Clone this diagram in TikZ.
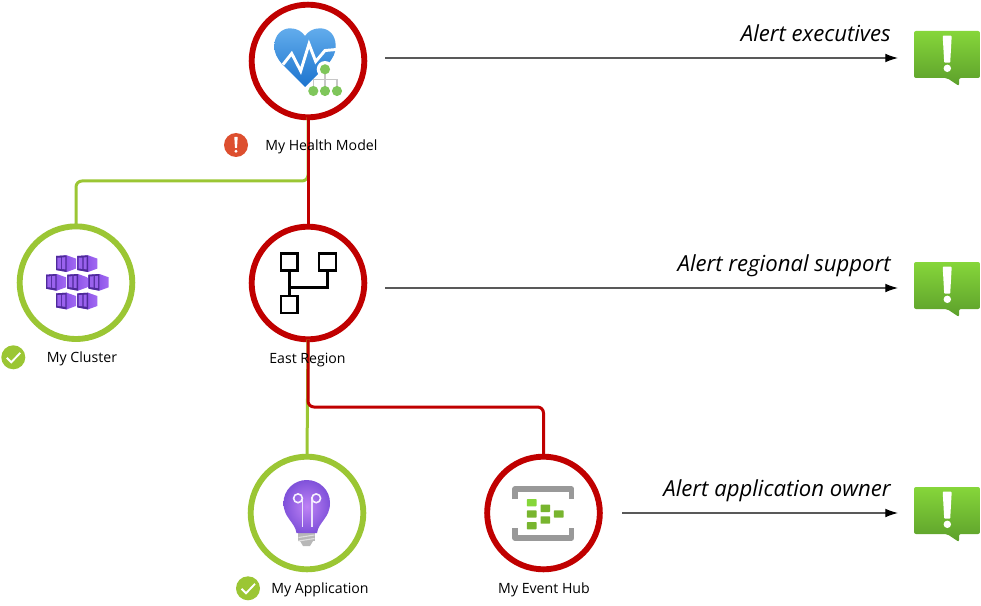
\documentclass[tikz,border=0pt]{standalone}
\usepackage{fontspec}
\setmainfont{Open Sans}
\usetikzlibrary{arrows.meta,calc}
\definecolor{redline}{HTML}{C00000}
\definecolor{greenline}{HTML}{9BC634}
\tikzset{
  statenode/.style={circle,draw=#1,fill=white,line width=4.4pt,minimum size=84.5pt,inner sep=0pt,outer sep=0pt},
  redlink/.style={draw=redline,line width=2.25pt,rounded corners=4.5pt},
  greenlink/.style={draw=greenline,line width=2.25pt,rounded corners=4.5pt},
  alertarrow/.style={draw=black!65,line width=0.85pt,-{Latex[length=9.5pt,width=6.5pt,black]}},
  namelabel/.style={inner sep=0pt,anchor=base,font=\fontsize{10.6}{12}\selectfont,text=black},
  alertlabel/.style={inner sep=0pt,anchor=base east,font=\fontsize{16.6}{19}\selectfont\itshape,text=black},
  pics/alertbubble/.style={code={
    \path[top color=HdrG,bottom color=LowG,rounded corners=1.5pt]
      (0,0) -- (66,0) -- (66,47) -- (45,47) -- (45,55) -- (33,47) -- (0,47) -- cycle;
    \fill[white,rounded corners=0.6pt] (28.7,4.7) -- (37.7,4.7) -- (36.2,31.7) -- (30.2,31.7) -- cycle;
    \fill[white] (33.3,37.3) circle[radius=2.8pt];
  }},
  pics/kube/.style={code={
    \path[left color=CubeM,right color=CubeR]
      (-10,-7.3) -- (0.7,-8) -- (10,-4.7) -- (10,5.3) -- (0.7,8.7) -- (-10,6.7) -- cycle;
    \fill[CubeD] (-10,-7.3) -- (0.7,-8) -- (0.7,8.7) -- (-10,6.7) -- cycle;
    \fill[CubeL] (-8.6,-5.6) -- (-5,-5.8) -- (-5,5.6) -- (-8.6,5.2) -- cycle;
    \fill[CubeL] (-3.8,-5.9) -- (-0.6,-6.1) -- (-0.6,6.1) -- (-3.8,5.7) -- cycle;
  }}
}
\definecolor{HdrG}{HTML}{86D63A}
\definecolor{LowG}{HTML}{5C9F2B}
\definecolor{CubeR}{HTML}{A26AF2}
\definecolor{CubeM}{HTML}{7B3FE0}
\definecolor{CubeD}{HTML}{4E2A9A}
\definecolor{CubeL}{HTML}{9A62EE}
\definecolor{NodeG}{HTML}{7FC65B}
\definecolor{HubG}{HTML}{78B52F}
\begin{document}
\begin{tikzpicture}[x=0.75pt,y=-0.75pt]
\useasboundingbox (0,0) rectangle (981,606);
% state circles
\node[statenode=redline] (health) at (308,61) {};
\node[statenode=greenline] (cluster) at (76,282.7) {};
\node[statenode=redline] (east) at (308,283) {};
\node[statenode=greenline] (app) at (307,513) {};
\node[statenode=redline] (hub) at (543.5,513) {};
% connectors
\coordinate (bendA) at (76,181);
\coordinate (bendB) at (543.5,407);
\path[greenlink] (health.south) |- (bendA) -- (cluster.north);
\path[redlink] (health.south) -- (east.north);
\path[greenlink] (east.south) -- (app.north);
\path[redlink] (east.south) |- (bendB) -- (hub.north);
% alert icons
\pic at (914,31) {alertbubble};
\pic at (914,262) {alertbubble};
\pic at (914,487) {alertbubble};
\coordinate (a1) at (385,58);\coordinate (b1) at (898,58);
\coordinate (a2) at (385,288);\coordinate (b2) at (898,288);
\coordinate (a3) at (622,513);\coordinate (b3) at (898,513);
\draw[alertarrow] (a1) -- (b1);
\draw[alertarrow] (a2) -- (b2);
\draw[alertarrow] (a3) -- (b3);
% heart icon
\path[top color={rgb,255:red,98;green,172;blue,236},bottom color={rgb,255:red,28;green,116;blue,206}]
  (305,87) -- (282,64)
  .. controls (277,58) and (274.3,53) .. (274.3,46)
  .. controls (274.3,35) and (282,28.3) .. (290,28.3)
  .. controls (297,28.3) and (302,31.5) .. (305,36)
  .. controls (308,31.5) and (313,28.3) .. (320,28.3)
  .. controls (329,28.3) and (335.7,35) .. (335.7,46)
  .. controls (335.7,53) and (333,58) .. (328,64) -- cycle;
\draw[white,line width=2.2pt,line join=miter] (283,64.5) -- (291.7,53.5) -- (300.7,71) -- (309,44) -- (315.7,61.5) -- (325,50.5) -- (336.5,49.5);
\fill[white] (325,69.3) circle[radius=6.2pt];
\fill[white] (319,76) rectangle (340,98);
\draw[black!22,line width=1pt] (325,70) -- (325,91) (313.3,79.5) -- (337,79.5) (313.3,79.5) -- (313.3,91) (337,79.5) -- (337,91);
\foreach \cx/\cy in {325/69.3,313.3/91,325/91,337/91}
  \fill[NodeG] (\cx,\cy) circle[radius=3.8pt];
% cluster icon
\foreach \cx/\cy in {66/263.3,87.3/263.3,56/282,77.3/282,98.7/282,66/300.7,87.3/300.7}
  \pic at (\cx,\cy) {kube};
% east region icon
\draw[black,line width=2pt] (281,253.5) rectangle (297.5,270.5);
\draw[black,line width=2pt] (319,253.5) rectangle (336,270.5);
\draw[black,line width=2pt] (281,296) rectangle (297.5,313);
\draw[black,line width=2pt] (289.3,270.5) -- (289.3,296) (289.3,287.7) -- (327.5,287.7) -- (327.5,270.5);
% bulb icon
\path[fill=black!28] (298,532) rectangle (315,541);
\path[fill=black!28] (300,541) -- (313,541) -- (310,546) -- (303,546) -- cycle;
\draw[black!12,line width=0.8pt] (298.5,537.5) -- (314.5,535) (298.5,541) -- (314.5,538.5);
\path[inner color={rgb,255:red,190;green,130;blue,245},outer color={rgb,255:red,128;green,82;blue,218}]
  (296.5,533) .. controls (295,522) and (283.5,518) .. (283.5,503)
  .. controls (283.5,490) and (294,480) .. (306.7,480)
  .. controls (319.5,480) and (330,490) .. (330,503)
  .. controls (330,518) and (318.5,522) .. (317,533) -- cycle;
\draw[white!80!CubeR,line width=1.2pt] (302.3,526.5) -- (302.3,497) (312,526.5) -- (312,497);
\draw[white!90!CubeR,line width=1.2pt] (298,498.3) circle[radius=3.3pt] (316.2,498.3) circle[radius=3.3pt];
% event hub icon
\draw[black!40,line width=4.2pt,line join=round] (515,499) -- (515,489) -- (571.5,489) -- (571.5,499);
\draw[black!40,line width=4.2pt,line join=round] (515,528) -- (515,538) -- (571.5,538) -- (571.5,528);
\foreach \cx/\cy in {531.7/514,531.7/525.7,545.3/508.3,545.3/520,558.7/514}
  \fill[HubG,rounded corners=0.5pt] (\cx-4.8,\cy-3.7) rectangle (\cx+4.8,\cy+3.7);
\fill[HdrG,rounded corners=0.5pt] (526.9,499) rectangle (536.5,506.4);
% status badges
\node[circle,fill={rgb,255:red,221;green,79;blue,47},minimum size=18pt,inner sep=0pt] (errA) at (236,145) {};
\fill[white,rounded corners=0.3pt] ($(errA)+(-1.7,-8)$) -- ($(errA)+(1.7,-8)$) -- ($(errA)+(1,3)$) -- ($(errA)+(-1,3)$) -- cycle;
\fill[white] ($(errA)+(0,6.3)$) circle[radius=1.2pt];
\node[circle,fill=greenline,minimum size=18pt,inner sep=0pt] (okA) at (13.3,357.3) {};
\node[circle,fill=greenline,minimum size=18pt,inner sep=0pt] (okB) at (248,588.3) {};
\draw[white,line width=1.4pt] ($(okA)+(-6.5,0.5)$) -- ($(okA)+(-2,5)$) -- ($(okA)+(7,-4.5)$);
\draw[white,line width=1.4pt] ($(okB)+(-6.5,0.5)$) -- ($(okB)+(-2,5)$) -- ($(okB)+(7,-4.5)$);
% labels
\node[namelabel,anchor=base west] (l1) at (265,150.5) {My Health Model};
\node[namelabel] (l2) at (82,362.5) {My Cluster};
\node[namelabel] (l3) at (307.5,363) {East Region};
\node[namelabel,anchor=base west] (l4) at (271,593) {My Application};
\node[namelabel] (l5) at (544,593) {My Event Hub};
\node[alertlabel] (t1) at (891,41.5) {Alert executives};
\node[alertlabel] (t2) at (891,271.5) {Alert regional support};
\node[alertlabel] (t3) at (891,496.5) {Alert application owner};
\end{tikzpicture}
\end{document}
